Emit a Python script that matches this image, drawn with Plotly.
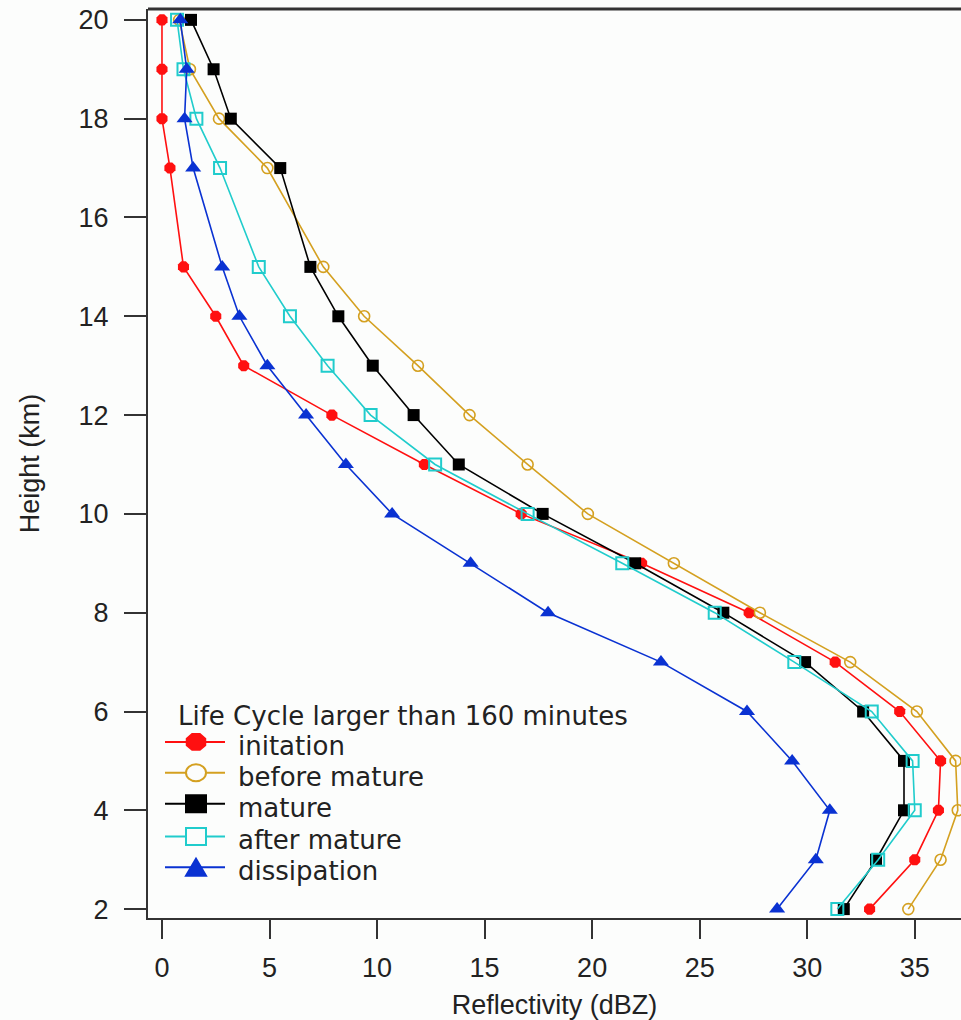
import math
import plotly.graph_objects as go

# Height levels (km) of the mean reflectivity profiles
heights = [2, 3, 4, 5, 6, 7, 8, 9, 10, 11, 12, 13, 14, 15, 17, 18, 19, 20]

# Mean reflectivity (dBZ) per life-cycle stage
initation = [32.9, 35.0, 36.1, 36.2, 34.3, 31.3, 27.3, 22.3, 16.7, 12.2,
             7.9, 3.8, 2.5, 1.0, 0.37, 0.0, 0.0, 0.0]
before_mature = [34.7, 36.2, 37.0, 36.9, 35.1, 32.0, 27.8, 23.8, 19.8, 17.0,
                 14.3, 11.9, 9.4, 7.5, 4.9, 2.65, 1.3, 0.8]
mature = [31.7, 33.2, 34.5, 34.5, 32.6, 29.9, 26.1, 22.0, 17.7, 13.8,
          11.7, 9.8, 8.2, 6.9, 5.5, 3.2, 2.4, 1.35]
after_mature = [31.4, 33.3, 35.0, 34.9, 33.0, 29.4, 25.7, 21.4, 17.0, 12.7,
                9.7, 7.7, 5.95, 4.5, 2.7, 1.6, 1.0, 0.7]
dissipation = [28.6, 30.4, 31.05, 29.3, 27.2, 23.2, 17.95, 14.35, 10.7, 8.55,
               6.7, 4.9, 3.6, 2.8, 1.45, 1.05, 1.15, 0.85]

x_ticks = [0, 5, 10, 15, 20, 25, 30, 35]
y_ticks = [2, 4, 6, 8, 10, 12, 14, 16, 18, 20]

legend_title = "Life Cycle larger than 160 minutes"
# name, values, colour, plot symbol, symbol size, marker outline width, key shape, key filled
series = [
    ("initation", initation, "#ff1010", "octagon", 12, 0, "octagon", True),
    ("before mature", before_mature, "#d4a020", "circle-open", 11, 1.6, "circle", False),
    ("mature", mature, "#000000", "square", 12, 0, "square", True),
    ("after mature", after_mature, "#20cccc", "square-open", 12, 2, "square", False),
    ("dissipation", dissipation, "#0a32d2", "triangle-up", 14, 0, "triangle", True),
]

TEXT = "#222222"
AXIS = "#333333"
BG = "#fcfdfc"
TICK_FONT = dict(family="Liberation Sans, Arial, sans-serif", size=27, color=TEXT)
KEY_FONT = dict(family="DejaVu Sans, sans-serif", size=26, color=TEXT)

W, H = 961, 1020
M = dict(l=148, r=0, t=9, b=97)
PW = W - M["l"] - M["r"]
PH = H - M["t"] - M["b"]


def paper_x(px):
    return (px - M["l"]) / PW


def paper_y(py):
    return (H - M["b"] - py) / PH


fig = go.Figure()
for name, vals, color, symbol, size, mlw, _, _ in series:
    fig.add_trace(go.Scatter(
        x=vals, y=heights, name=name, mode="lines+markers", showlegend=False,
        line=dict(color=color, width=1.6),
        marker=dict(symbol=symbol, size=size, color=color,
                    line=dict(color=color, width=mlw)),
    ))

# Legend block: title, key line + key symbol, and label for each stage
TEXT_DROP = 4  # labels sit a little low relative to their box centre
shapes = [dict(type="line", xref="paper", yref="paper", x0=0, x1=1, y0=1, y1=1,
               line=dict(color=AXIS, width=3))]
annotations = [dict(text=legend_title, xref="paper", yref="paper",
                    x=paper_x(176), y=paper_y(716 + TEXT_DROP), xanchor="left",
                    yanchor="middle", showarrow=False, font=KEY_FONT)]

row_y = [746, 777, 808, 841, 872]
key_x0, key_x1, key_cx, label_x = 165, 225, 196, 236
hw, hh = 10, 8.5
for (name, _, color, _, _, _, key, filled), ry in zip(series, row_y):
    yp = paper_y(ry)
    shapes.append(dict(type="line", xref="paper", yref="paper",
                       x0=paper_x(key_x0), x1=paper_x(key_x1), y0=yp, y1=yp,
                       line=dict(color=color, width=2)))
    base = dict(xref="paper", yref="paper", xsizemode="pixel", ysizemode="pixel",
                xanchor=paper_x(key_cx), yanchor=yp,
                fillcolor=color if filled else BG,
                line=dict(color=color, width=2))
    if key == "circle":
        shapes.append(dict(type="circle", x0=-hw, x1=hw, y0=-hh, y1=hh, **base))
    elif key == "square":
        shapes.append(dict(type="rect", x0=-hw, x1=hw, y0=-hh, y1=hh, **base))
    elif key == "triangle":
        shapes.append(dict(type="path", path=f"M{-hw},{-hh} L{hw},{-hh} L0,{hh} Z", **base))
    else:
        pts = [(hw * math.cos(math.radians(22.5 + 45 * k)),
                hh * math.sin(math.radians(22.5 + 45 * k))) for k in range(8)]
        path = "M" + " L".join(f"{a:.2f},{b:.2f}" for a, b in pts) + " Z"
        shapes.append(dict(type="path", path=path, **base))
    annotations.append(dict(text=name, xref="paper", yref="paper",
                            x=paper_x(label_x), y=paper_y(ry + TEXT_DROP),
                            xanchor="left", yanchor="middle",
                            showarrow=False, font=KEY_FONT))

fig.update_layout(
    width=W, height=H,
    margin=M,
    paper_bgcolor=BG, plot_bgcolor=BG,
    font=TICK_FONT,
    showlegend=False,
    xaxis=dict(
        range=[-0.65, 37.15], tickvals=x_ticks, showgrid=False, zeroline=False,
        showline=True, linecolor=AXIS, linewidth=2,
        ticks="outside", ticklen=19, tickwidth=2, tickcolor=AXIS,
        ticklabelstandoff=6,
        title=dict(text="Reflectivity (dBZ)", standoff=18, font=TICK_FONT),
    ),
    yaxis=dict(
        range=[1.82, 20.22], tickvals=y_ticks, showgrid=False, zeroline=False,
        showline=True, linecolor=AXIS, linewidth=2,
        ticks="outside", ticklen=22, tickwidth=2, tickcolor=AXIS,
        ticklabelstandoff=10,
        title=dict(text="Height (km)", standoff=31, font=TICK_FONT),
    ),
    shapes=shapes,
    annotations=annotations,
)

fig.write_html("out.html")
